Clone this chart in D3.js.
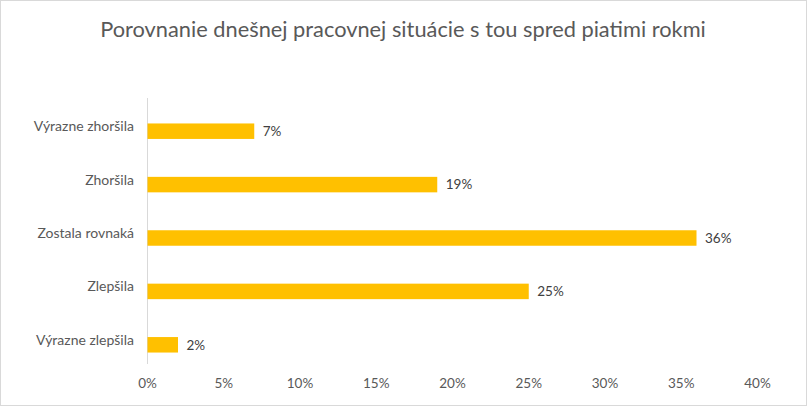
<!DOCTYPE html>
<html><head><meta charset="utf-8">
<script src="https://cdn.jsdelivr.net/npm/d3@7"></script>
<style>body{margin:0;background:#fff;} svg{display:block;}</style>
</head><body>
<script>
const categories = ["Výrazne zhoršila","Zhoršila","Zostala rovnaká","Zlepšila","Výrazne zlepšila"];
const values = [7, 19, 36, 25, 2];
const ticks = [0,5,10,15,20,25,30,35,40];
const title = "Porovnanie dnešnej pracovnej situácie s tou spred piatimi rokmi";

const W = 808, H = 407;
const font = "Lato, 'Open Sans', sans-serif";
const svg = d3.select("body").append("svg").attr("width", W).attr("height", H);
svg.append("rect").attr("x",0.5).attr("y",0.5).attr("width",W-2).attr("height",H-2)
  .attr("fill","#fff").attr("stroke","#d9d9d9");

const x = d3.scaleLinear().domain([0,40]).range([147,757]);
const y = d3.scaleBand().domain(categories).range([104.5,371.5]).paddingInner(0.71).paddingOuter(0.355);

svg.append("text").attr("x",403).attr("y",37).attr("text-anchor","middle")
  .attr("font-family",font).attr("font-size",21.8).attr("fill","#595959").text(title);

// axis line
svg.append("line").attr("x1",147.5).attr("x2",147.5).attr("y1",98).attr("y2",364).attr("stroke","#d9d9d9");

svg.selectAll("rect.bar").data(values).enter().append("rect").attr("class","bar")
  .attr("x",x(0)+0.5).attr("y",(d,i)=>y(categories[i]))
  .attr("width",d=>x(d)-x(0)).attr("height",y.bandwidth()).attr("fill","#ffc000");

svg.selectAll("text.val").data(values).enter().append("text").attr("class","val")
  .attr("x",d=>x(d)+9).attr("y",(d,i)=>y(categories[i])+y.bandwidth()/2)
  .attr("dy","0.35em").attr("font-family",font).attr("font-size",13.5).attr("fill","#404040")
  .text(d=>d+"%");

svg.selectAll("text.cat").data(categories).enter().append("text").attr("class","cat")
  .attr("x",134).attr("y",d=>y(d)+y.bandwidth()/2-5)
  .attr("dy","0.35em").attr("text-anchor","end").attr("font-family",font).attr("font-size",14).attr("fill","#595959")
  .text(d=>d);

const axis = d3.axisBottom(x).tickValues(ticks).tickFormat(d=>d+"%").tickSize(0).tickPadding(0);
const g = svg.append("g").attr("transform","translate(0,378)").call(axis);
g.select(".domain").remove();
g.selectAll("text").attr("font-family",font).attr("font-size",13.5).attr("fill","#595959");
</script>
</body></html>
